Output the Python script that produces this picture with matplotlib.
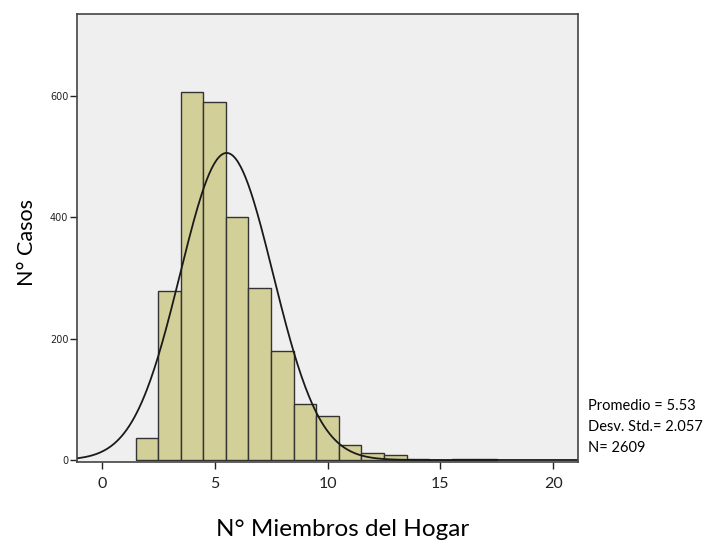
import numpy as np
import matplotlib.pyplot as plt

# N° de miembros del hogar (centro de cada barra) y n° de casos
miembros = [2, 3, 4, 5, 6, 7, 8, 9, 10, 11, 12, 13, 14, 15, 16, 17]
casos = [36, 279, 607, 590, 401, 283, 180, 92, 73, 24, 11, 8, 2, 0, 1, 1]

promedio = 5.53
desv = 2.057
n_total = 2609

y_ticks = [0, 200, 400, 600]
x_ticks = [0, 5, 10, 15, 20]

fig = plt.figure(figsize=(7.19, 5.42), dpi=100)
ax = fig.add_axes([0.1067, 0.1476, 0.6976, 0.8266])
ax.set_facecolor('#efefef')

ax.bar(miembros, casos, width=1.0, color='#d3cf98', edgecolor='#333333', linewidth=1.0)

# curva normal
xs = np.linspace(-1.2, 21.2, 400)
ys = n_total / (desv * np.sqrt(2 * np.pi)) * np.exp(-0.5 * ((xs - promedio) / desv) ** 2)
ax.plot(xs, ys, color='#1a1a1a', linewidth=1.3)

ax.set_xlim(-1.11, 21.11)
ax.set_ylim(-3.3, 735)
ax.set_xticks(x_ticks)
ax.set_yticks(y_ticks)
ax.tick_params(axis='x', labelsize=11.5, length=5, width=1, colors='#222222', pad=6)
ax.tick_params(axis='y', labelsize=7, length=5, width=1, colors='#222222', pad=1)
for lab in ax.get_xticklabels():
    lab.set_family('Lato')
for s in ax.spines.values():
    s.set_color('#444444')
    s.set_linewidth(1.2)

ax.set_xlabel('N° Miembros del Hogar', fontsize=17.5, family='Lato')
ax.xaxis.set_label_coords(0.531, -0.128)
ax.set_ylabel('N° Casos', fontsize=15.5, family='Lato')
ax.yaxis.set_label_coords(-0.08, 0.49)

fig.text(0.818, 0.212, 'Promedio = %.2f\nDesv. Std.= %.3f\nN= %d' % (promedio, desv, n_total),
         fontsize=10.5, family='Lato', va='center', ha='left', linespacing=1.6)

fig.savefig('out.png', dpi=100)
